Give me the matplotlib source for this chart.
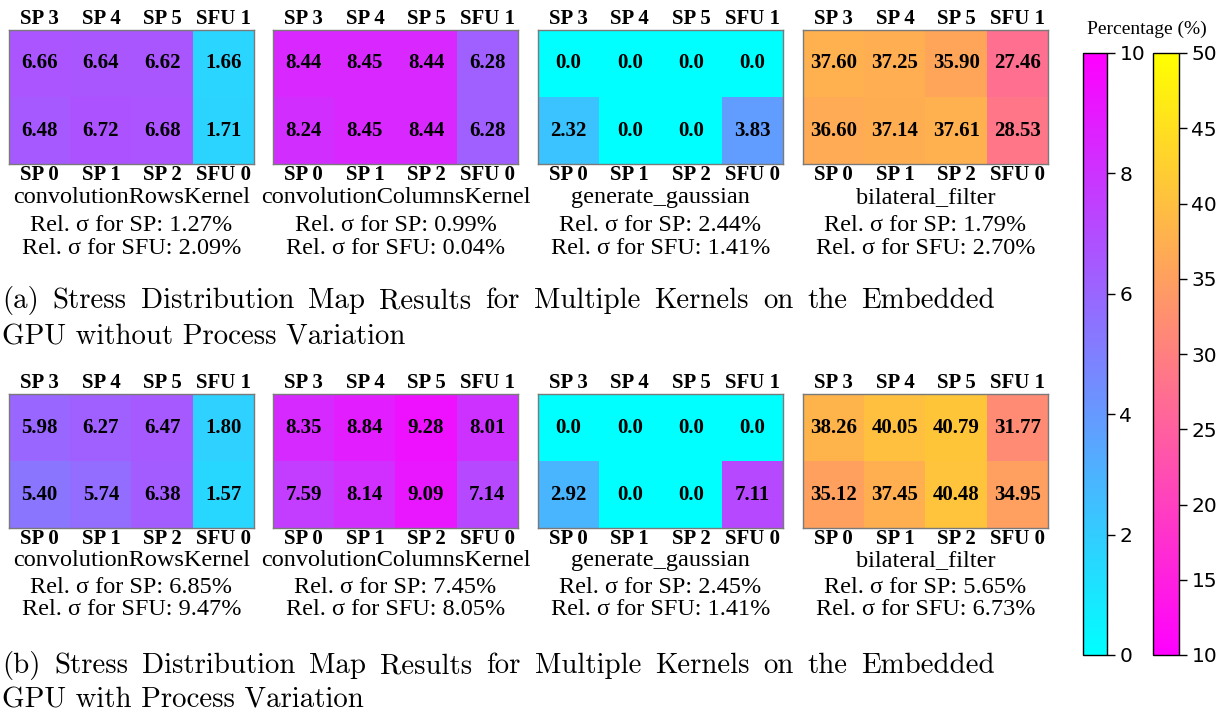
import matplotlib
matplotlib.use("Agg")
import matplotlib.pyplot as plt
import numpy as np
from matplotlib import cm, colors

# ---- data -------------------------------------------------------------
kernels = ["convolutionRowsKernel", "convolutionColumnsKernel",
           "generate_gaussian", "bilateral_filter"]
top_labels = ["SP 3", "SP 4", "SP 5", "SFU 1"]
bottom_labels = ["SP 0", "SP 1", "SP 2", "SFU 0"]

# (a) without process variation, each kernel: [upper row, lower row]
conv_rows_a = [[6.66, 6.64, 6.62, 1.66], [6.48, 6.72, 6.68, 1.71]]
conv_cols_a = [[8.44, 8.45, 8.44, 6.28], [8.24, 8.45, 8.44, 6.28]]
gauss_a     = [[0.0, 0.0, 0.0, 0.0], [2.32, 0.0, 0.0, 3.83]]
bilateral_a = [[37.60, 37.25, 35.90, 27.46], [36.60, 37.14, 37.61, 28.53]]
rel_sp_a  = [1.27, 0.99, 2.44, 1.79]
rel_sfu_a = [2.09, 0.04, 1.41, 2.70]

# (b) with process variation
conv_rows_b = [[5.98, 6.27, 6.47, 1.80], [5.40, 5.74, 6.38, 1.57]]
conv_cols_b = [[8.35, 8.84, 9.28, 8.01], [7.59, 8.14, 9.09, 7.14]]
gauss_b     = [[0.0, 0.0, 0.0, 0.0], [2.92, 0.0, 0.0, 7.11]]
bilateral_b = [[38.26, 40.05, 40.79, 31.77], [35.12, 37.45, 40.48, 34.95]]
rel_sp_b  = [6.85, 7.45, 2.45, 5.65]
rel_sfu_b = [9.47, 8.05, 1.41, 6.73]

cap_a = ["(a) Stress Distribution Map Results for Multiple Kernels on the Embedded",
         "GPU without Process Variation"]
cap_b = ["(b) Stress Distribution Map Results for Multiple Kernels on the Embedded",
         "GPU with Process Variation"]

cool_ticks = [0, 2, 4, 6, 8, 10]
spring_ticks = [10, 15, 20, 25, 30, 35, 40, 45, 50]

# ---- layout (pixels) ---------------------------------------------------
W, H = 1218, 712
def fx(x): return x / W
def fy(y): return 1 - y / H

SERIF = ["Liberation Serif", "DejaVu Serif"]
norm_cool = colors.Normalize(0, 10)
norm_spring = colors.Normalize(10, 50)

fig = plt.figure(figsize=(W / 100, H / 100), dpi=100)
fig.patch.set_facecolor("white")

lefts = [9, 273, 538, 803]
pw = 245

def draw_row(maps, rel_sp, rel_sfu, ytop, ybot, offs):
    for k, data in enumerate(maps):
        x0 = lefts[k]
        ax = fig.add_axes([fx(x0), fy(ybot), pw / W, (ybot - ytop) / H])
        arr = np.array(data)
        if k == 3:
            cmap, nrm = "spring", norm_spring
        else:
            cmap, nrm = "cool", norm_cool
        ax.imshow(arr, cmap=cmap, norm=nrm, aspect="auto")
        ax.set_xticks([]); ax.set_yticks([])
        for sp in ax.spines.values():
            sp.set_color("#7a7a7a"); sp.set_linewidth(1.0)
        for i in range(2):
            for j in range(4):
                v = arr[i, j]
                s = "0.0" if v == 0 else f"{v:.2f}"
                ax.text(j, i, s, ha="center", va="center", fontsize=15,
                        fontweight="bold", family=SERIF)
        cx = x0 + pw / 2
        for j in range(4):
            xc = x0 + (j + 0.5) * pw / 4
            fig.text(fx(xc), fy(ytop - 11), top_labels[j], ha="center", va="center",
                     fontsize=15, fontweight="bold", family=SERIF)
            fig.text(fx(xc), fy(ybot + 11), bottom_labels[j], ha="center", va="center",
                     fontsize=15, fontweight="bold", family=SERIF)
        fig.text(fx(cx), fy(ybot + offs[0]), kernels[k], ha="center", va="baseline",
                 fontsize=17.5, family=SERIF)
        fig.text(fx(cx), fy(ybot + offs[1]), f"Rel. σ for SP: {rel_sp[k]:.2f}%",
                 ha="center", va="baseline", fontsize=17.5, family=SERIF)
        fig.text(fx(cx), fy(ybot + offs[2]), f"Rel. σ for SFU: {rel_sfu[k]:.2f}%",
                 ha="center", va="baseline", fontsize=17.5, family=SERIF)

draw_row([conv_rows_a, conv_cols_a, gauss_a, bilateral_a], rel_sp_a, rel_sfu_a,
         30, 164, (39, 67, 90))
draw_row([conv_rows_b, conv_cols_b, gauss_b, bilateral_b], rel_sp_b, rel_sfu_b,
         394, 528, (38, 65, 87))

# ---- captions (justified first line) ----------------------------------
renderer = fig.canvas.get_renderer()

def caption(lines, y1, y2, x_start=2, x_end=995):
    words = lines[0].split(" ")
    texts = [fig.text(0, fy(y1), w, fontsize=20.8, family="cmr10", va="baseline")
             for w in words]
    widths = [t.get_window_extent(renderer).width for t in texts]
    gap = (x_end - x_start - sum(widths)) / (len(words) - 1)
    x = x_start
    for t, wd in zip(texts, widths):
        t.set_x(fx(x))
        x += wd + gap
    fig.text(fx(x_start), fy(y2), lines[1], fontsize=20.8, family="cmr10", va="baseline")

caption(cap_a, 308, 344)
caption(cap_b, 673, 708)

# ---- colorbars ---------------------------------------------------------
cb_top, cb_bot = 53, 655
cax1 = fig.add_axes([fx(1083), fy(cb_bot), 24 / W, (cb_bot - cb_top) / H])
cax2 = fig.add_axes([fx(1153), fy(cb_bot), 26 / W, (cb_bot - cb_top) / H])
cb1 = fig.colorbar(cm.ScalarMappable(norm=norm_cool, cmap="cool"), cax=cax1,
                   ticks=cool_ticks)
cb2 = fig.colorbar(cm.ScalarMappable(norm=norm_spring, cmap="spring"), cax=cax2,
                   ticks=spring_ticks)
for cb in (cb1, cb2):
    cb.outline.set_linewidth(1.0)
    cb.ax.tick_params(labelsize=14.5, length=6, width=1, pad=3)
fig.text(fx(1147), fy(29), "Percentage (%)", ha="center", va="center",
         fontsize=14, family=SERIF)

fig.savefig("out.png", dpi=100)
